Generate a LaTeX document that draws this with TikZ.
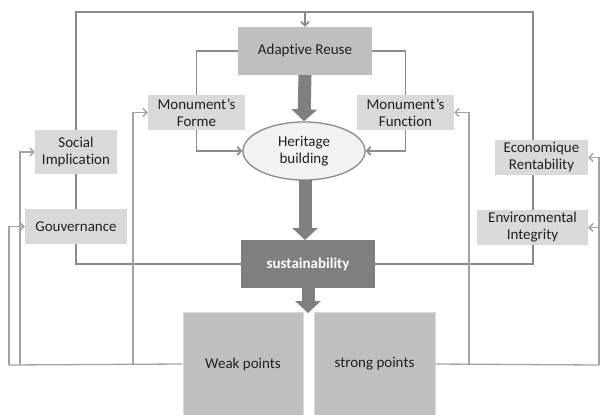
\documentclass[tikz,border=0pt]{standalone}
\usepackage{fontspec}
\setmainfont{Carlito}[Ligatures=CommonOff]
\usetikzlibrary{arrows.meta,shapes.geometric}
\definecolor{lightbox}{HTML}{D9D9D9}
\definecolor{midbox}{HTML}{BFBFBF}
\definecolor{darkbox}{HTML}{7F7F7F}
\definecolor{linegray}{HTML}{8A8A8A}
\definecolor{thingray}{HTML}{A3A3A3}
\definecolor{txt}{HTML}{202020}
\tikzset{
  lbox/.style={rectangle, fill=lightbox, draw=none, text=txt, align=center, inner sep=0pt,
     font=\fontsize{15}{17}\selectfont},
  mbox/.style={rectangle, fill=midbox, draw=none, text=txt, align=center, inner sep=0pt,
     font=\fontsize{15}{17}\selectfont},
  dbox/.style={rectangle, fill=darkbox, draw=none, text=white, align=center, inner sep=0pt,
     font=\fontsize{15}{17}\selectfont\bfseries},
  pbox/.style={rectangle, fill=midbox, draw=lightbox, line width=1pt, text=txt, align=center, inner sep=0pt,
     font=\fontsize{15}{17}\selectfont},
  conn/.style={draw=linegray, line width=1.8pt},
  connarr/.style={draw=linegray, line width=1.8pt, -{Straight Barb[length=4pt,width=8pt]}},
  thinarr/.style={draw=thingray, line width=1.3pt, -{Straight Barb[length=4pt,width=8pt]}},
  thinline/.style={draw=thingray, line width=1.3pt},
  bigarr/.style={draw=darkbox, line width=13pt, -{Triangle[length=12pt,width=25pt]}},
}
\begin{document}
\begin{tikzpicture}[x=1pt,y=-1pt]
\useasboundingbox[fill=white] (0,0) rectangle (600,415);
% nodes
\node[mbox, minimum width=134pt, minimum height=48pt] (adapt) at (305,51) {Adaptive Reuse};
\node[lbox, minimum width=97pt, minimum height=35pt] (forme) at (196.5,112.5) {Monument’s\\Forme};
\node[lbox, minimum width=97pt, minimum height=35pt] (func) at (405.5,112.5) {Monument’s\\Function};
\node[ellipse, fill=black!5, draw=linegray, line width=1.3pt, minimum width=122pt, minimum height=58pt,
      inner sep=0pt, align=center, text=txt, font=\fontsize{15}{17}\selectfont] (herit) at (304,151) {Heritage\\building};
\node[lbox, minimum width=82pt, minimum height=44pt] (social) at (76,152) {Social\\Implication};
\node[lbox, minimum width=102pt, minimum height=35pt] (gouv) at (76,226.5) {Gouvernance};
\node[lbox, minimum width=93pt, minimum height=35pt] (econ) at (541.5,157.5) {Economique\\Rentability};
\node[lbox, minimum width=111pt, minimum height=35pt] (env) at (532.5,227.5) {Environmental\\Integrity};
\node[dbox, minimum width=134pt, minimum height=48pt] (sust) at (308,264) {sustainability};
\node[pbox, minimum width=120pt, minimum height=104pt] (weak) at (243,364) {Weak points};
\node[pbox, minimum width=121pt, minimum height=104pt] (strong) at (374.5,364) {strong points};
% coordinates
\coordinate (tl) at (76,12);
\coordinate (tr) at (533,12);
\coordinate (tm) at (305,12);
\coordinate (lo) at (308,313);
% top loop
\draw[conn, line width=2.2pt] (social.north) -- (tl) -- (tr) -- (533,140);
\draw[connarr] (tm) -- (adapt.north);
\draw[conn] (social.south) -- (gouv.north);
\draw[conn] (gouv.south) |- (sust.west);
\draw[conn] (533,175) -- (533,210);
\draw[conn] (533,245) |- (sust.east);
% adaptive to forme/function
\draw[conn] (adapt.west) -| (forme.north);
\draw[conn] (adapt.east) -| (func.north);
\draw[connarr] (forme.south) |- (herit.west);
\draw[connarr] (func.south) |- (herit.east);
% big arrows
\draw[bigarr] (305,75) -- (herit.north);
\draw[bigarr] (305,180) -- (305,240);
\draw[bigarr] (sust.south) -- (lo);
% feedback from weak points
\coordinate (wl) at (9,365);
\draw[thinline] (weak.west) -- (wl);
\draw[thinarr] (wl) |- (gouv.west);
\draw[thinarr] (20,365) |- (social.west);
\draw[thinarr] (133,365) |- (forme.west);
% feedback from strong points
\coordinate (sr) at (599,365);
\draw[thinline] (strong.east) -- (sr);
\draw[thinarr] (sr) |- (econ.east);
\draw[thinarr] (599,227.5) -- (env.east);
\draw[thinarr] (469,365) |- (func.east);
\end{tikzpicture}
\end{document}
